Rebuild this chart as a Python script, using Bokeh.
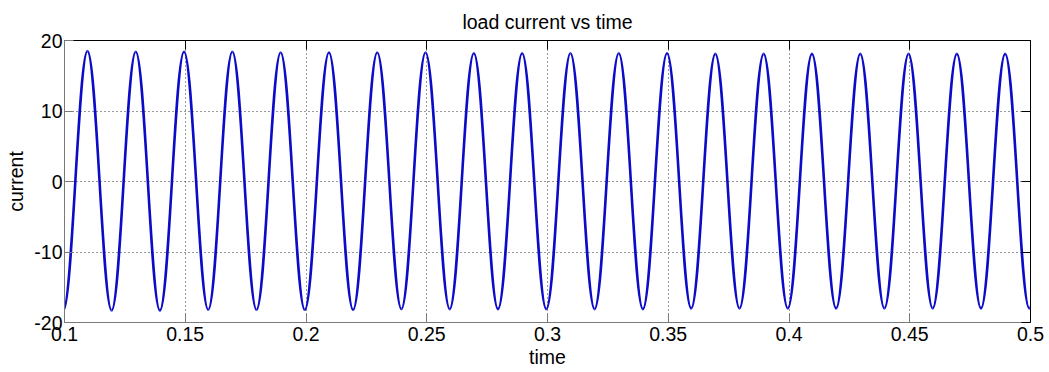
from bokeh.plotting import figure
from bokeh.models import LinearAxis, FixedTicker, Range1d, Grid, Title
from bokeh.embed import file_html
from bokeh.resources import INLINE

# ---- data ----
title_text = "load current vs time"
x_label = "time"
y_label = "current"
x_ticks = [0.1, 0.15, 0.2, 0.25, 0.3, 0.35, 0.4, 0.45, 0.5]
x_tick_labels = ["0.1", "0.15", "0.2", "0.25", "0.3", "0.35", "0.4", "0.45", "0.5"]
y_ticks = [-20, -10, 0, 10, 20]
y_tick_labels = ["-20", "-10", "0", "10", "20"]

# times/values of the waveform's troughs and peaks (50 Hz load current)
trough_times = [0.0995, 0.1195, 0.1395, 0.1595, 0.1795, 0.1995, 0.2195, 0.2395,
                0.2595, 0.2795, 0.2995, 0.3195, 0.3395, 0.3595, 0.3795, 0.3995,
                0.4195, 0.4395, 0.4595, 0.4795, 0.4995]
trough_values = [-18.3, -18.3, -18.3, -18.2, -18.2, -18.2, -18.2, -18.1,
                 -18.1, -18.1, -18.1, -18.1, -18.1, -18.0, -18.0, -18.0,
                 -18.0, -18.0, -18.0, -18.0, -18.0]
peak_times = [0.1095, 0.1295, 0.1495, 0.1695, 0.1895, 0.2095, 0.2295, 0.2495,
              0.2695, 0.2895, 0.3095, 0.3295, 0.3495, 0.3695, 0.3895, 0.4095,
              0.4295, 0.4495, 0.4695, 0.4895, 0.5095]
peak_values = [18.5, 18.4, 18.4, 18.4, 18.3, 18.3, 18.3, 18.3,
               18.2, 18.2, 18.2, 18.2, 18.2, 18.1, 18.1, 18.1,
               18.1, 18.1, 18.1, 18.1, 18.1]

# interleave extrema in time order
ext_t, ext_v = [], []
for tt, tv, pt, pv in zip(trough_times, trough_values, peak_times, peak_values):
    ext_t += [tt, pt]
    ext_v += [tv, pv]

FONT = "Liberation Sans"
FS = "19.5px"
LINE = "#0b0bc8"

p = figure(width=1049, height=372, output_backend="svg", toolbar_location=None,
           x_range=Range1d(0.1, 0.5), y_range=Range1d(-20, 20),
           x_axis_location=None, y_axis_location=None,
           min_border_left=64, min_border_right=19, min_border_top=40,
           min_border_bottom=50, background_fill_color="white",
           border_fill_color="white", outline_line_color=None)
p.center = []  # drop default grids

p.title = Title(text=title_text, align="center", text_font=FONT,
                text_font_size=FS, text_font_style="normal",
                text_color="black", standoff=16)

xt = FixedTicker(ticks=x_ticks)
yt = FixedTicker(ticks=y_ticks)

grid_kw = dict(grid_line_color="#303030", grid_line_dash="1 3", grid_line_width=1)
p.add_layout(Grid(dimension=0, ticker=xt, **grid_kw))
p.add_layout(Grid(dimension=1, ticker=yt, **grid_kw))

def mk_axis(ticker, ticks, labels, color, show_labels, label=None):
    ax = LinearAxis(ticker=ticker, major_tick_in=9, major_tick_out=0,
                    minor_tick_line_color=None, axis_line_color=color,
                    major_tick_line_color=color, axis_line_width=1,
                    major_label_text_font=FONT, major_label_text_color="black")
    if show_labels:
        ax.major_label_overrides = {t: s for t, s in zip(ticks, labels)}
        ax.major_label_text_font_size = FS
        ax.axis_label = label
        ax.axis_label_text_font = FONT
        ax.axis_label_text_font_size = FS
        ax.axis_label_text_font_style = "normal"
        ax.axis_label_text_color = "black"
    else:
        ax.major_label_overrides = {t: "" for t in ticks}
        ax.major_label_text_font_size = "1px"
        ax.major_label_text_color = None
        ax.major_label_standoff = 0
        ax.axis_label_standoff = 0
    return ax

left = mk_axis(yt, y_ticks, y_tick_labels, "#7a7a7a", True, y_label)
left.major_label_standoff = 2
left.axis_label_standoff = 4
bottom = mk_axis(xt, x_ticks, x_tick_labels, "#7a7a7a", True, x_label)
bottom.major_label_standoff = 4
bottom.axis_label_standoff = 2
top = mk_axis(xt, x_ticks, x_tick_labels, "black", False)
right = mk_axis(yt, y_ticks, y_tick_labels, "black", False)

p.add_layout(left, "left")
p.add_layout(bottom, "below")
p.add_layout(top, "above")
p.add_layout(right, "right")

# smooth half-cycles between consecutive extrema drawn as cubic Bezier curves
x0 = ext_t[:-1]; y0 = ext_v[:-1]
x1 = ext_t[1:];  y1 = ext_v[1:]
k = 0.3634
cx0 = [a + k * (b - a) for a, b in zip(x0, x1)]
cx1 = [b - k * (b - a) for a, b in zip(x0, x1)]
p.bezier(x0=x0, y0=y0, x1=x1, y1=y1, cx0=cx0, cy0=y0, cx1=cx1, cy1=y1,
         line_color=LINE, line_width=2.6)

open("out.html", "w").write(file_html(p, INLINE))
